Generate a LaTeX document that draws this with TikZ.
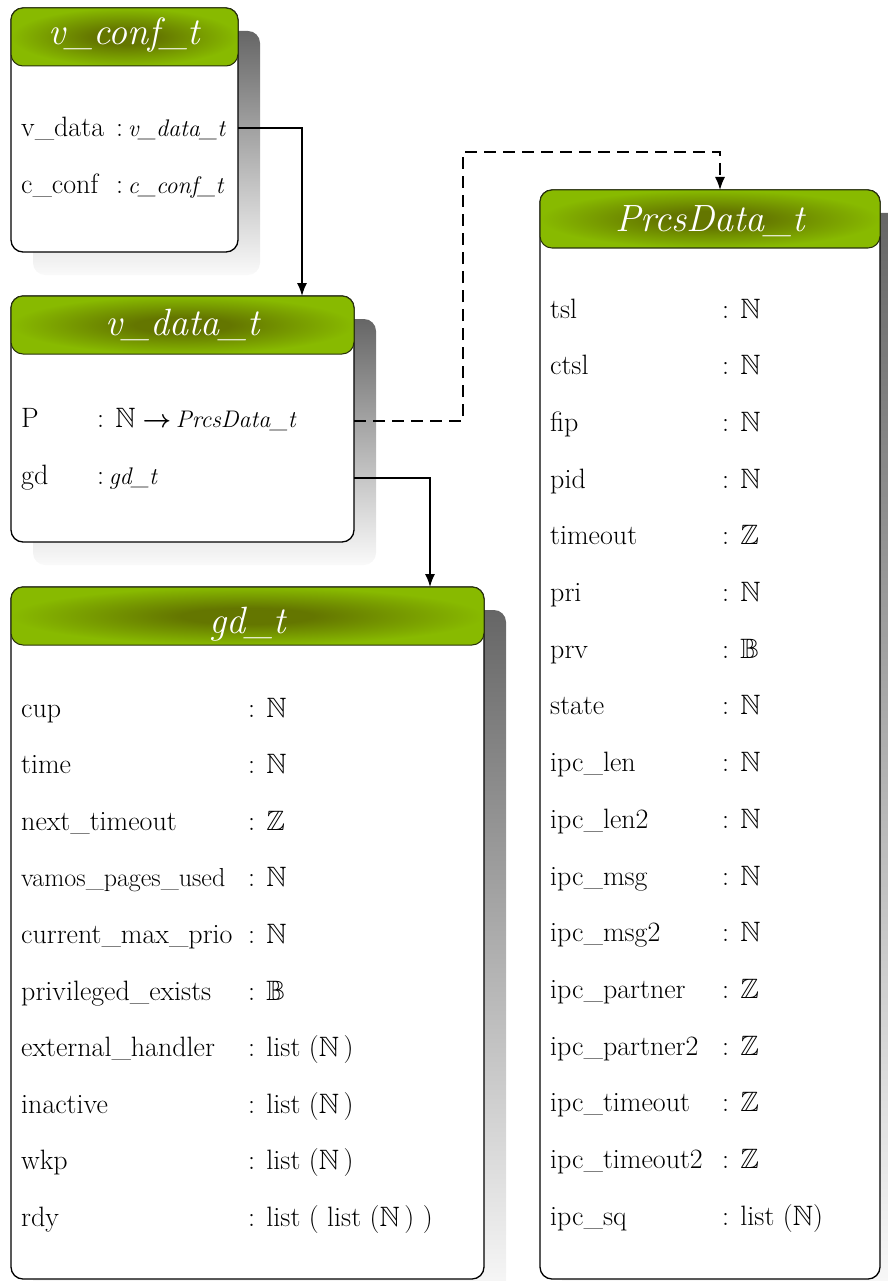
\documentclass[tikz,border=0pt]{standalone}
\usepackage{amsmath}
\usepackage{amssymb}
\usetikzlibrary{arrows.meta}
\definecolor{hdrout}{RGB}{136,186,0}
\definecolor{hdrin}{RGB}{100,118,0}
\definecolor{hdrline}{RGB}{40,50,10}
\pgfdeclareradialshading{hdrshade}{\pgfpoint{0bp}{0bp}}{color(0bp)=(hdrin); color(7bp)=(hdrin); color(25bp)=(hdrout); color(50bp)=(hdrout)}
\newcommand{\ty}[1]{{\fontsize{24}{28}\selectfont\itshape #1}}
\tikzset{
  shadowbox/.style={rectangle, rounded corners=12pt, top color=black!60, bottom color=black!2, draw=none, anchor=north west, inner sep=0pt, outer sep=0pt},
  bodybox/.style={rectangle, rounded corners=12pt, draw=black, line width=1.3pt, fill=white, anchor=north west, inner sep=0pt, outer sep=0pt},
  hdrbox/.style={rectangle, rounded corners=12pt, draw=hdrline, line width=1pt, shading=hdrshade, anchor=north west, inner sep=0pt, outer sep=0pt, minimum height=58pt},
  title/.style={font=\fontsize{38}{40}\selectfont\itshape, text=white, anchor=base, inner sep=0pt},
  row/.style={font=\fontsize{28}{30}\selectfont, anchor=base west, inner sep=0pt},
  conn/.style={line width=1.5pt, -{Latex[length=13pt,width=10pt]}},
  dconn/.style={conn, dash pattern=on 12pt off 7pt},
}
\begin{document}
\begin{tikzpicture}[x=1pt,y=-1pt]
\useasboundingbox (0,0) rectangle (887,1281);
% ---------- shadows
\node[shadowbox, minimum width=227pt, minimum height=244pt] (vconfs) at (33,31) {};
\node[shadowbox, minimum width=343pt, minimum height=246pt] (vdatas) at (33,319) {};
\node[shadowbox, minimum width=473pt, minimum height=692pt] (gds) at (33,610) {};
\node[shadowbox, minimum width=340pt, minimum height=1089pt] (pds) at (562,213) {};
% ---------- bodies
\node[bodybox, minimum width=227pt, minimum height=244pt] (vconf) at (11,8) {};
\node[bodybox, minimum width=343pt, minimum height=246pt] (vdata) at (11,296) {};
\node[bodybox, minimum width=473pt, minimum height=692pt] (gd) at (11,587) {};
\node[bodybox, minimum width=340pt, minimum height=1089pt] (pd) at (540,190) {};
% ---------- headers
\node[hdrbox, minimum width=227pt] (vconfh) at (11,8) {};
\node[hdrbox, minimum width=343pt] (vdatah) at (11,296) {};
\node[hdrbox, minimum width=473pt] (gdh) at (11,587) {};
\node[hdrbox, minimum width=340pt] (pdh) at (540,190) {};
% ---------- titles
\node[title] (vconft) at (124.5,45) {v\_conf\_t};
\node[title] (vdatat) at (182.5,335) {v\_data\_t};
\node[title] (gdt) at (247.5,633) {gd\_t};
\node[title] (pdt) at (710,232) {PrcsData\_t};
% ---------- v_conf_t rows
\node[row] (vc1) at (21,137) {v\_data};
\node[row] (vc1t) at (116,137) {:\,\ty{v\_data\_t}};
\node[row] (vc2) at (21,194) {c\_conf};
\node[row] (vc2t) at (116,194) {:\,\ty{c\_conf\_t}};
% ---------- v_data_t rows
\node[row] (vd1) at (21,427) {P};
\node[row] (vd1t) at (97,427) {: $\mathbb{N}\boldsymbol{\rightarrow}$\,\ty{PrcsData\_t}};
\node[row] (vd2) at (21,484) {gd};
\node[row] (vd2t) at (97,484) {:\,\ty{gd\_t}};
% ---------- gd_t rows
\foreach \n/\t [count=\i from 0] in {
  cup/{: $\mathbb{N}$},
  time/{: $\mathbb{N}$},
  next\_timeout/{: $\mathbb{Z}$},
  {\fontsize{26}{28}\selectfont vamos\_pages\_used}/{: $\mathbb{N}$},
  current\_max\_prio/{: $\mathbb{N}$},
  privileged\_exists/{: $\mathbb{B}$},
  external\_handler/{: list ($\mathbb{N}$\,)},
  inactive/{: list ($\mathbb{N}$\,)},
  wkp/{: list ($\mathbb{N}$\,)},
  rdy/{: list ( list ($\mathbb{N}$\,) )}} {
  \node[row] (gdr\i) at (21,{717+56.6*\i}) {\n};
  \node[row] (gdrt\i) at (248,{717+56.6*\i}) {\t};
}
% ---------- PrcsData_t rows
\foreach \n/\t [count=\i from 0] in {
  tsl/{: $\mathbb{N}$},
  ctsl/{: $\mathbb{N}$},
  fip/{: $\mathbb{N}$},
  pid/{: $\mathbb{N}$},
  timeout/{: $\mathbb{Z}$},
  pri/{: $\mathbb{N}$},
  prv/{: $\mathbb{B}$},
  state/{: $\mathbb{N}$},
  ipc\_len/{: $\mathbb{N}$},
  ipc\_len2/{: $\mathbb{N}$},
  ipc\_msg/{: $\mathbb{N}$},
  ipc\_msg2/{: $\mathbb{N}$},
  ipc\_partner/{: $\mathbb{Z}$},
  ipc\_partner2/{: $\mathbb{Z}$},
  ipc\_timeout/{: $\mathbb{Z}$},
  ipc\_timeout2/{: $\mathbb{Z}$},
  ipc\_sq/{: list ($\mathbb{N}$)}} {
  \node[row] (pdr\i) at (550,{318+56.7*\i}) {\n};
  \node[row] (pdrt\i) at (722,{318+56.7*\i}) {\t};
}
% ---------- connectors
\coordinate (j1) at (302,128);
\coordinate (j2a) at (463,421);
\coordinate (j2b) at (720,152);
\coordinate (j3) at (430,478);
\draw[conn] (vconf.east |- j1) -- (j1) -- (j1 |- vdata.north);
\draw[dconn] (vdata.east |- j2a) -- (j2a) |- (j2b) -- (j2b |- pd.north);
\draw[conn] (vdata.east |- j3) -- (j3) -- (j3 |- gd.north);
\end{tikzpicture}
\end{document}
